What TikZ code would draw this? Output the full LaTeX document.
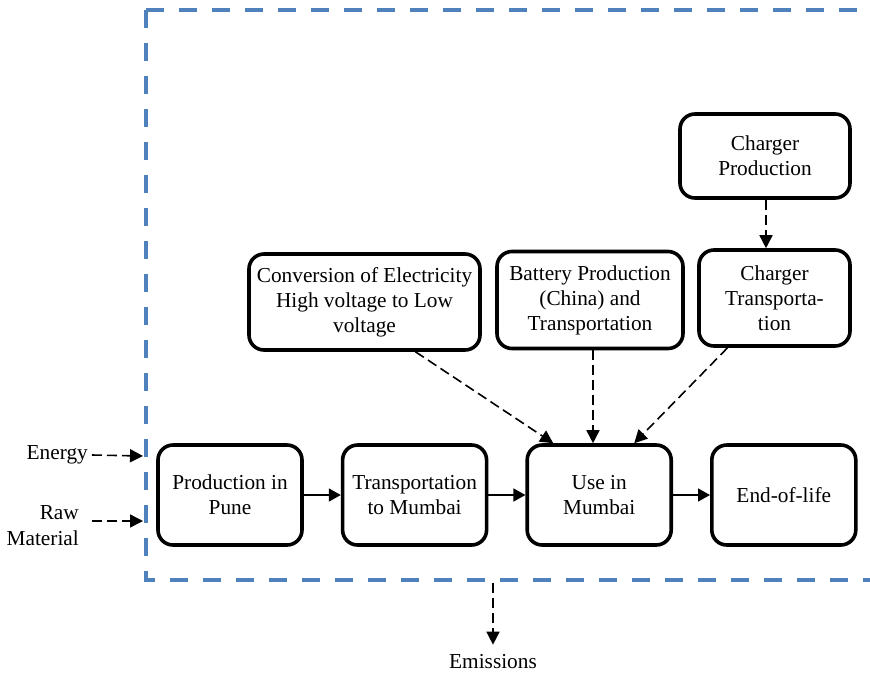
\documentclass[tikz,border=0pt]{standalone}
\usepackage{xcolor}
\usepackage{fontspec}
\setmainfont{Liberation Serif}
\usepackage{tikz}
\usetikzlibrary{arrows.meta,positioning}
\definecolor{borderblue}{HTML}{4F81BD}

\begin{document}
\begin{tikzpicture}[
  x=1pt, y=-1pt,
  node distance=37pt,
  font=\fontsize{21.3}{25}\selectfont,
  block/.style={rectangle, draw, line width=3.6pt, rounded corners=15pt, align=center, minimum width=144pt, minimum height=100pt, inner sep=2pt},
  label/.style={align=right, inner sep=2pt},
  line/.style={-{Triangle[length=12pt,width=13pt]}, line width=1.6pt},
  dline/.style={-{Triangle[length=13pt,width=13pt]}, line width=1.6pt, dash pattern=on 10pt off 5pt},
  border/.style={borderblue, line width=4pt, dash pattern=on 18pt off 15pt}
]
\useasboundingbox (0,0) rectangle (870,673);

% system boundary
\draw[border] (146,10) -- (880,10) (146,10) -- (146,580) -- (880,580);

% main chain
\node[block] (prod) at (230,495) {Production in\\Pune};
\node[block, right=of prod] (trans) {Transportation\\to Mumbai};
\node[block, right=of trans] (use) {Use in\\Mumbai};
\node[block, right=of use] (eol) {End-of-life};

% supporting processes
\node[block, minimum width=231pt, minimum height=96pt] (conv) at (364.5,302) {Conversion of Electricity\\High voltage to Low\\voltage};
\node[block, minimum width=186pt, minimum height=97pt] (batt) at (590,300) {Battery Production\\(China) and\\Transportation};
\node[block, minimum width=151pt, minimum height=96pt] (ctrans) at (774.5,298) {Charger\\Transporta-\\tion};
\node[block, minimum width=170pt, minimum height=84pt] (cprod) at (765,156) {Charger\\Production};

% inputs and outputs
\node[label, anchor=east] (energy) at (90,455) {Energy};
\node[label, anchor=east, font=\fontsize{21.3}{26}\selectfont] (raw) at (81,526) {Raw\\Material};
\node[inner sep=2pt] (emis) at (493,662) {Emissions};
\coordinate (energyin) at (143,456);
\coordinate (rawin) at (143,521);
\coordinate (emisout) at (493,583);

\draw[line] (prod) -- (trans);
\draw[line] (trans) -- (use);
\draw[line] (use) -- (eol);

\draw[dline] ([xshift=51pt]conv.south) -- ([xshift=-46pt]use.north);
\draw[dline] ([xshift=3pt]batt.south) -- ([xshift=3pt]batt.south |- use.north);
\draw[dline] ([xshift=-47pt]ctrans.south) -- ([xshift=35pt]use.north);
\draw[dline] ([xshift=1pt]cprod.south) -- ([xshift=1pt]cprod.south |- ctrans.north);

\draw[dline] ([xshift=2pt]energy.east) -- (energyin);
\draw[dline] ([xshift=2pt]energy.east |- rawin) -- (rawin);
\draw[dline] (emisout) -- ([yshift=8pt]emis.north);
\end{tikzpicture}
\end{document}
